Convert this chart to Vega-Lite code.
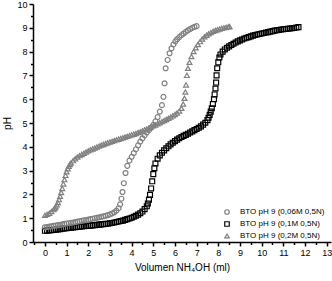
{
"$schema": "https://vega.github.io/schema/vega-lite/v6.json",
"width": 298, "height": 238,
"autosize": "none",
"padding": {"left": 33, "top": 4, "right": 1, "bottom": 39},
"config": {"view": {"stroke": null}, "font": "Liberation Sans",
  "axis": {"grid": false, "domainColor": "#000", "domainWidth": 1.5, "tickColor": "#000", "tickWidth": 1.5, "labelColor": "#000", "labelFontSize": 9, "labelFont": "Liberation Sans", "titleFont": "Liberation Sans", "titleFontSize": 10, "titleFontWeight": "normal", "titleColor": "#000", "labelOverlap": false, "labelFlush": false, "labelPadding": 2}},
"data": {"values": [
{"s":"0,1M","v":0,"p":0.47},{"s":"0,1M","v":0.1,"p":0.48},{"s":"0,1M","v":0.2,"p":0.49},{"s":"0,1M","v":0.3,"p":0.5},{"s":"0,1M","v":0.4,"p":0.51},{"s":"0,1M","v":0.5,"p":0.52},{"s":"0,1M","v":0.6,"p":0.53},{"s":"0,1M","v":0.7,"p":0.54},{"s":"0,1M","v":0.8,"p":0.56},{"s":"0,1M","v":0.9,"p":0.57},{"s":"0,1M","v":1.0,"p":0.58},{"s":"0,1M","v":1.1,"p":0.59},{"s":"0,1M","v":1.2,"p":0.6},{"s":"0,1M","v":1.3,"p":0.61},{"s":"0,1M","v":1.4,"p":0.62},{"s":"0,1M","v":1.5,"p":0.63},{"s":"0,1M","v":1.6,"p":0.64},{"s":"0,1M","v":1.7,"p":0.65},{"s":"0,1M","v":1.8,"p":0.66},{"s":"0,1M","v":1.9,"p":0.67},{"s":"0,1M","v":2.0,"p":0.68},{"s":"0,1M","v":2.1,"p":0.69},{"s":"0,1M","v":2.2,"p":0.7},{"s":"0,1M","v":2.3,"p":0.71},{"s":"0,1M","v":2.4,"p":0.72},{"s":"0,1M","v":2.5,"p":0.73},{"s":"0,1M","v":2.6,"p":0.74},{"s":"0,1M","v":2.7,"p":0.75},{"s":"0,1M","v":2.8,"p":0.76},{"s":"0,1M","v":2.9,"p":0.77},{"s":"0,1M","v":3.0,"p":0.79},{"s":"0,1M","v":3.1,"p":0.8},{"s":"0,1M","v":3.2,"p":0.82},{"s":"0,1M","v":3.3,"p":0.84},{"s":"0,1M","v":3.4,"p":0.86},{"s":"0,1M","v":3.5,"p":0.88},{"s":"0,1M","v":3.6,"p":0.9},{"s":"0,1M","v":3.7,"p":0.93},{"s":"0,1M","v":3.8,"p":0.96},{"s":"0,1M","v":3.9,"p":0.99},{"s":"0,1M","v":4.0,"p":1.02},{"s":"0,1M","v":4.1,"p":1.06},{"s":"0,1M","v":4.2,"p":1.1},{"s":"0,1M","v":4.3,"p":1.15},{"s":"0,1M","v":4.4,"p":1.21},{"s":"0,1M","v":4.5,"p":1.28},{"s":"0,1M","v":4.6,"p":1.38},{"s":"0,1M","v":4.7,"p":1.5},{"s":"0,1M","v":4.75,"p":1.62},{"s":"0,1M","v":4.8,"p":1.78},{"s":"0,1M","v":4.85,"p":1.98},{"s":"0,1M","v":4.9,"p":2.25},{"s":"0,1M","v":4.95,"p":2.55},{"s":"0,1M","v":5.0,"p":2.85},{"s":"0,1M","v":5.05,"p":3.1},{"s":"0,1M","v":5.1,"p":3.3},{"s":"0,1M","v":5.2,"p":3.5},{"s":"0,1M","v":5.3,"p":3.64},{"s":"0,1M","v":5.4,"p":3.75},{"s":"0,1M","v":5.5,"p":3.85},{"s":"0,1M","v":5.6,"p":3.94},{"s":"0,1M","v":5.7,"p":4.02},{"s":"0,1M","v":5.8,"p":4.1},{"s":"0,1M","v":5.9,"p":4.17},{"s":"0,1M","v":6.0,"p":4.24},{"s":"0,1M","v":6.1,"p":4.3},{"s":"0,1M","v":6.2,"p":4.36},{"s":"0,1M","v":6.3,"p":4.41},{"s":"0,1M","v":6.4,"p":4.46},{"s":"0,1M","v":6.5,"p":4.5},{"s":"0,1M","v":6.6,"p":4.55},{"s":"0,1M","v":6.7,"p":4.6},{"s":"0,1M","v":6.8,"p":4.65},{"s":"0,1M","v":6.9,"p":4.7},{"s":"0,1M","v":7.0,"p":4.75},{"s":"0,1M","v":7.1,"p":4.8},{"s":"0,1M","v":7.2,"p":4.86},{"s":"0,1M","v":7.3,"p":4.93},{"s":"0,1M","v":7.4,"p":5.01},{"s":"0,1M","v":7.5,"p":5.12},{"s":"0,1M","v":7.55,"p":5.22},{"s":"0,1M","v":7.6,"p":5.34},{"s":"0,1M","v":7.65,"p":5.48},{"s":"0,1M","v":7.7,"p":5.62},{"s":"0,1M","v":7.75,"p":5.8},{"s":"0,1M","v":7.8,"p":6.0},{"s":"0,1M","v":7.83,"p":6.2},{"s":"0,1M","v":7.87,"p":6.45},{"s":"0,1M","v":7.9,"p":6.7},{"s":"0,1M","v":7.92,"p":7.0},{"s":"0,1M","v":7.95,"p":7.3},{"s":"0,1M","v":8.0,"p":7.55},{"s":"0,1M","v":8.05,"p":7.75},{"s":"0,1M","v":8.1,"p":7.88},{"s":"0,1M","v":8.2,"p":8.0},{"s":"0,1M","v":8.3,"p":8.09},{"s":"0,1M","v":8.4,"p":8.16},{"s":"0,1M","v":8.5,"p":8.22},{"s":"0,1M","v":8.6,"p":8.28},{"s":"0,1M","v":8.7,"p":8.33},{"s":"0,1M","v":8.8,"p":8.38},{"s":"0,1M","v":8.9,"p":8.43},{"s":"0,1M","v":9.0,"p":8.47},{"s":"0,1M","v":9.1,"p":8.51},{"s":"0,1M","v":9.2,"p":8.55},{"s":"0,1M","v":9.3,"p":8.58},{"s":"0,1M","v":9.4,"p":8.61},{"s":"0,1M","v":9.5,"p":8.64},{"s":"0,1M","v":9.6,"p":8.67},{"s":"0,1M","v":9.7,"p":8.7},{"s":"0,1M","v":9.8,"p":8.72},{"s":"0,1M","v":9.9,"p":8.74},{"s":"0,1M","v":10.0,"p":8.76},{"s":"0,1M","v":10.1,"p":8.78},{"s":"0,1M","v":10.2,"p":8.8},{"s":"0,1M","v":10.3,"p":8.82},{"s":"0,1M","v":10.4,"p":8.84},{"s":"0,1M","v":10.5,"p":8.86},{"s":"0,1M","v":10.6,"p":8.88},{"s":"0,1M","v":10.7,"p":8.9},{"s":"0,1M","v":10.8,"p":8.91},{"s":"0,1M","v":10.9,"p":8.93},{"s":"0,1M","v":11.0,"p":8.94},{"s":"0,1M","v":11.1,"p":8.95},{"s":"0,1M","v":11.2,"p":8.96},{"s":"0,1M","v":11.3,"p":8.97},{"s":"0,1M","v":11.4,"p":8.98},{"s":"0,1M","v":11.5,"p":8.99},{"s":"0,1M","v":11.6,"p":9.01},{"s":"0,1M","v":11.7,"p":9.03},
{"s":"0,06M","v":0,"p":0.62},{"s":"0,06M","v":0.1,"p":0.63},{"s":"0,06M","v":0.2,"p":0.65},{"s":"0,06M","v":0.3,"p":0.66},{"s":"0,06M","v":0.4,"p":0.68},{"s":"0,06M","v":0.5,"p":0.69},{"s":"0,06M","v":0.6,"p":0.71},{"s":"0,06M","v":0.7,"p":0.72},{"s":"0,06M","v":0.8,"p":0.74},{"s":"0,06M","v":0.9,"p":0.76},{"s":"0,06M","v":1.0,"p":0.78},{"s":"0,06M","v":1.1,"p":0.79},{"s":"0,06M","v":1.2,"p":0.81},{"s":"0,06M","v":1.3,"p":0.82},{"s":"0,06M","v":1.4,"p":0.84},{"s":"0,06M","v":1.5,"p":0.86},{"s":"0,06M","v":1.6,"p":0.87},{"s":"0,06M","v":1.7,"p":0.89},{"s":"0,06M","v":1.8,"p":0.91},{"s":"0,06M","v":1.9,"p":0.92},{"s":"0,06M","v":2.0,"p":0.94},{"s":"0,06M","v":2.1,"p":0.96},{"s":"0,06M","v":2.2,"p":0.98},{"s":"0,06M","v":2.3,"p":1.0},{"s":"0,06M","v":2.4,"p":1.02},{"s":"0,06M","v":2.5,"p":1.04},{"s":"0,06M","v":2.6,"p":1.06},{"s":"0,06M","v":2.7,"p":1.08},{"s":"0,06M","v":2.8,"p":1.1},{"s":"0,06M","v":2.9,"p":1.13},{"s":"0,06M","v":3.0,"p":1.16},{"s":"0,06M","v":3.1,"p":1.2},{"s":"0,06M","v":3.2,"p":1.25},{"s":"0,06M","v":3.3,"p":1.32},{"s":"0,06M","v":3.4,"p":1.42},{"s":"0,06M","v":3.47,"p":1.58},{"s":"0,06M","v":3.53,"p":1.82},{"s":"0,06M","v":3.58,"p":2.1},{"s":"0,06M","v":3.64,"p":2.47},{"s":"0,06M","v":3.72,"p":2.9},{"s":"0,06M","v":3.8,"p":3.2},{"s":"0,06M","v":3.9,"p":3.42},{"s":"0,06M","v":4.0,"p":3.58},{"s":"0,06M","v":4.1,"p":3.74},{"s":"0,06M","v":4.2,"p":3.9},{"s":"0,06M","v":4.3,"p":4.06},{"s":"0,06M","v":4.4,"p":4.22},{"s":"0,06M","v":4.5,"p":4.36},{"s":"0,06M","v":4.6,"p":4.48},{"s":"0,06M","v":4.7,"p":4.6},{"s":"0,06M","v":4.8,"p":4.7},{"s":"0,06M","v":4.9,"p":4.81},{"s":"0,06M","v":5.0,"p":4.92},{"s":"0,06M","v":5.1,"p":5.07},{"s":"0,06M","v":5.2,"p":5.25},{"s":"0,06M","v":5.3,"p":5.48},{"s":"0,06M","v":5.4,"p":5.75},{"s":"0,06M","v":5.47,"p":6.1},{"s":"0,06M","v":5.52,"p":6.67},{"s":"0,06M","v":5.57,"p":7.3},{"s":"0,06M","v":5.66,"p":7.65},{"s":"0,06M","v":5.75,"p":7.93},{"s":"0,06M","v":5.84,"p":8.14},{"s":"0,06M","v":5.93,"p":8.3},{"s":"0,06M","v":6.02,"p":8.43},{"s":"0,06M","v":6.1,"p":8.52},{"s":"0,06M","v":6.2,"p":8.61},{"s":"0,06M","v":6.3,"p":8.69},{"s":"0,06M","v":6.4,"p":8.76},{"s":"0,06M","v":6.5,"p":8.83},{"s":"0,06M","v":6.6,"p":8.89},{"s":"0,06M","v":6.7,"p":8.95},{"s":"0,06M","v":6.8,"p":9.0},{"s":"0,06M","v":6.9,"p":9.04},{"s":"0,06M","v":7.0,"p":9.07},
{"s":"0,2M","v":0,"p":1.12},{"s":"0,2M","v":0.1,"p":1.16},{"s":"0,2M","v":0.2,"p":1.21},{"s":"0,2M","v":0.3,"p":1.28},{"s":"0,2M","v":0.4,"p":1.36},{"s":"0,2M","v":0.45,"p":1.42},{"s":"0,2M","v":0.5,"p":1.48},{"s":"0,2M","v":0.55,"p":1.56},{"s":"0,2M","v":0.6,"p":1.66},{"s":"0,2M","v":0.65,"p":1.78},{"s":"0,2M","v":0.7,"p":1.92},{"s":"0,2M","v":0.75,"p":2.08},{"s":"0,2M","v":0.8,"p":2.25},{"s":"0,2M","v":0.85,"p":2.44},{"s":"0,2M","v":0.9,"p":2.62},{"s":"0,2M","v":0.95,"p":2.8},{"s":"0,2M","v":1.0,"p":2.95},{"s":"0,2M","v":1.05,"p":3.08},{"s":"0,2M","v":1.1,"p":3.18},{"s":"0,2M","v":1.15,"p":3.26},{"s":"0,2M","v":1.2,"p":3.32},{"s":"0,2M","v":1.3,"p":3.42},{"s":"0,2M","v":1.4,"p":3.5},{"s":"0,2M","v":1.5,"p":3.57},{"s":"0,2M","v":1.6,"p":3.63},{"s":"0,2M","v":1.7,"p":3.68},{"s":"0,2M","v":1.8,"p":3.73},{"s":"0,2M","v":1.9,"p":3.78},{"s":"0,2M","v":2.0,"p":3.83},{"s":"0,2M","v":2.1,"p":3.87},{"s":"0,2M","v":2.2,"p":3.91},{"s":"0,2M","v":2.3,"p":3.95},{"s":"0,2M","v":2.4,"p":3.99},{"s":"0,2M","v":2.5,"p":4.03},{"s":"0,2M","v":2.6,"p":4.07},{"s":"0,2M","v":2.7,"p":4.1},{"s":"0,2M","v":2.8,"p":4.14},{"s":"0,2M","v":2.9,"p":4.17},{"s":"0,2M","v":3.0,"p":4.2},{"s":"0,2M","v":3.1,"p":4.23},{"s":"0,2M","v":3.2,"p":4.26},{"s":"0,2M","v":3.3,"p":4.29},{"s":"0,2M","v":3.4,"p":4.32},{"s":"0,2M","v":3.5,"p":4.35},{"s":"0,2M","v":3.6,"p":4.38},{"s":"0,2M","v":3.7,"p":4.41},{"s":"0,2M","v":3.8,"p":4.44},{"s":"0,2M","v":3.9,"p":4.47},{"s":"0,2M","v":4.0,"p":4.5},{"s":"0,2M","v":4.1,"p":4.53},{"s":"0,2M","v":4.2,"p":4.56},{"s":"0,2M","v":4.3,"p":4.6},{"s":"0,2M","v":4.4,"p":4.63},{"s":"0,2M","v":4.5,"p":4.67},{"s":"0,2M","v":4.6,"p":4.71},{"s":"0,2M","v":4.7,"p":4.75},{"s":"0,2M","v":4.8,"p":4.79},{"s":"0,2M","v":4.9,"p":4.84},{"s":"0,2M","v":5.0,"p":4.88},{"s":"0,2M","v":5.1,"p":4.92},{"s":"0,2M","v":5.2,"p":4.97},{"s":"0,2M","v":5.3,"p":5.01},{"s":"0,2M","v":5.4,"p":5.06},{"s":"0,2M","v":5.5,"p":5.1},{"s":"0,2M","v":5.6,"p":5.15},{"s":"0,2M","v":5.7,"p":5.2},{"s":"0,2M","v":5.8,"p":5.25},{"s":"0,2M","v":5.9,"p":5.3},{"s":"0,2M","v":6.0,"p":5.36},{"s":"0,2M","v":6.1,"p":5.42},{"s":"0,2M","v":6.2,"p":5.5},{"s":"0,2M","v":6.3,"p":5.62},{"s":"0,2M","v":6.38,"p":5.8},{"s":"0,2M","v":6.44,"p":6.04},{"s":"0,2M","v":6.48,"p":6.3},{"s":"0,2M","v":6.51,"p":6.6},{"s":"0,2M","v":6.55,"p":7.0},{"s":"0,2M","v":6.6,"p":7.3},{"s":"0,2M","v":6.67,"p":7.55},{"s":"0,2M","v":6.76,"p":7.79},{"s":"0,2M","v":6.86,"p":8.0},{"s":"0,2M","v":6.96,"p":8.16},{"s":"0,2M","v":7.06,"p":8.3},{"s":"0,2M","v":7.16,"p":8.42},{"s":"0,2M","v":7.26,"p":8.53},{"s":"0,2M","v":7.36,"p":8.62},{"s":"0,2M","v":7.46,"p":8.69},{"s":"0,2M","v":7.56,"p":8.75},{"s":"0,2M","v":7.66,"p":8.8},{"s":"0,2M","v":7.76,"p":8.85},{"s":"0,2M","v":7.86,"p":8.89},{"s":"0,2M","v":7.96,"p":8.92},{"s":"0,2M","v":8.06,"p":8.95},{"s":"0,2M","v":8.16,"p":8.98},{"s":"0,2M","v":8.26,"p":9.0},{"s":"0,2M","v":8.36,"p":9.02},{"s":"0,2M","v":8.46,"p":9.04},{"s":"0,2M","v":8.52,"p":9.05}
]},
"mark": {"type": "point", "filled": false, "strokeWidth": 1.2, "size": 24, "opacity": 1},
"encoding": {
  "x": {"field": "v", "type": "quantitative",
    "scale": {"domain": [-0.55, 13.2], "nice": false, "zero": false},
    "axis": {"title": "Volumen NH₄OH (ml)", "titlePadding": 5,
      "values": [-0.5,0,0.5,1,1.5,2,2.5,3,3.5,4,4.5,5,5.5,6,6.5,7,7.5,8,8.5,9,9.5,10,10.5,11,11.5,12,12.5,13],
      "labelExpr": "datum.value % 1 == 0 ? format(datum.value, 'd') : ''",
      "tickSize": {"condition": {"test": "datum.value % 1 == 0", "value": 4}, "value": 2.5}}},
  "y": {"field": "p", "type": "quantitative",
    "scale": {"domain": [0, 10], "nice": false},
    "axis": {"title": "pH", "titlePadding": 4,
      "values": [0,0.5,1,1.5,2,2.5,3,3.5,4,4.5,5,5.5,6,6.5,7,7.5,8,8.5,9,9.5,10],
      "labelExpr": "datum.value % 1 == 0 ? format(datum.value, 'd') : ''",
      "tickSize": {"condition": {"test": "datum.value % 1 == 0", "value": 4}, "value": 2.5}}},
  "color": {"field": "s", "type": "nominal",
    "scale": {"domain": ["0,06M", "0,1M", "0,2M"], "range": ["#808080", "#000000", "#808080"]},
    "legend": {"orient": "none", "legendX": 190, "legendY": 204, "title": null, "padding": 0, "labelFontSize": 8, "labelFont": "Liberation Sans", "labelColor": "#000", "symbolSize": 20, "symbolStrokeWidth": 1.2, "labelOffset": 9, "rowPadding": 2, "labelExpr": "'BTO pH 9 (' + datum.label + ' 0,5N)'"}},
  "shape": {"field": "s", "type": "nominal",
    "scale": {"domain": ["0,06M", "0,1M", "0,2M"], "range": ["circle", "square", "triangle-up"]},
    "legend": {"orient": "none", "legendX": 190, "legendY": 204, "title": null, "padding": 0, "labelFontSize": 8, "labelFont": "Liberation Sans", "labelColor": "#000", "symbolSize": 20, "symbolStrokeWidth": 1.2, "labelOffset": 9, "rowPadding": 2, "labelExpr": "'BTO pH 9 (' + datum.label + ' 0,5N)'"}}
}
}
